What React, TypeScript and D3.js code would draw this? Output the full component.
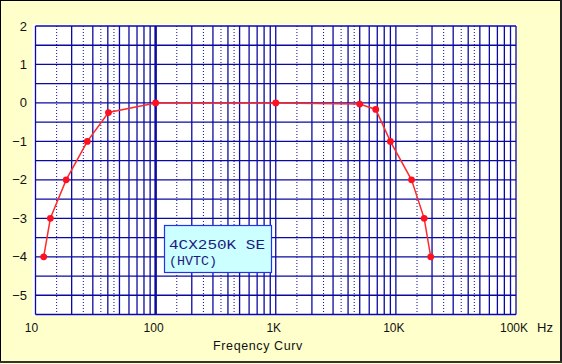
import React from 'react'
import * as d3 from 'd3'

// frequency response
const freqs = [11.7, 13.3, 18, 27, 40.5, 100, 1000, 5000, 6800, 9000, 13500, 17200, 19500]
const levels = [-4, -3, -2, -1, -0.25, 0, 0, -0.03, -0.17, -1, -2, -3, -4]

const yTicks = [2, 1, 0, -1, -2, -3, -4, -5]
const xTicks = [10, 100, 1000, 10000, 100000]
const xTickLabels = ['10', '100', '1K', '10K', '100K']
const legendLines = ['4CX250K SE', '(HVTC)']
const legendWidths = [96, 48]

const W = 562
const H = 364
const gridColor = '#0a0aa0'
const font = '"Liberation Sans", Arial, sans-serif'

const App = () => {
    const x = d3.scaleLog().domain([10, 100000]).range([35.5, 516])
    const y = d3.scaleLinear().domain([-5.5, 2]).range([314.5, 26])

    // minor grid: solid at 1..9, dotted at the halves 1.5..4.5
    let solidX: number[] = []
    let dottedX: number[] = []
    for (let d = 10; d < 100000; d *= 10) {
        for (let m = 1; m <= 9; m++) solidX.push(d * m)
        for (let m = 1.5; m < 5; m += 1) dottedX.push(d * m)
    }
    solidX.push(100000)

    let gridY: number[] = []
    for (let v = -5.5; v <= 2.001; v += 0.5) gridY.push(v)

    const points = freqs.map((f, i) => [f, levels[i]] as [number, number])
    const line = d3.line<[number, number]>()
        .x(d => x(d[0]))
        .y(d => y(d[1]))

    const [x0, x1] = x.range()
    const [y0, y1] = y.range()

    return (
        <svg width={W} height={H} style={{ position: 'absolute', left: 0, top: 0 }}>
            <rect x={0} y={0} width={W} height={H} fill="#ffffcc" />
            <rect x={0.5} y={0.5} width={560} height={361} fill="none" stroke="#000" strokeWidth={1} />
            <line x1={561} x2={561} y1={0} y2={363} stroke="#222" strokeWidth={2} />
            <line x1={0} x2={562} y1={362} y2={362} stroke="#333" strokeWidth={2} />

            <rect x={32} y={24} width={x1 - 32 + 1} height={y0 - 24 + 1.5} fill="#fff" />

            {dottedX.map((f, i) =>
                <line key={`dx-${i}`} x1={x(f)} x2={x(f)} y1={y1} y2={y0}
                      stroke={gridColor} strokeWidth={1} strokeDasharray="1,2" />
            )}
            {solidX.map((f, i) =>
                <line key={`sx-${i}`} x1={x(f)} x2={x(f)} y1={y1} y2={y0}
                      stroke={gridColor} strokeWidth={f === 100 ? 2.5 : 1.3} />
            )}
            {gridY.map((v, i) =>
                <line key={`gy-${i}`} x1={x0} x2={x1} y1={y(v)} y2={y(v)}
                      stroke={gridColor} strokeWidth={1.3} />
            )}

            <path d={line(points) || ''} fill="none" stroke="#ff2a2a" strokeWidth={1.5} />
            {points.map((p, i) =>
                <circle key={`pt-${i}`} cx={x(p[0])} cy={y(p[1])} r={3.4} fill="#ff1020" />
            )}

            {yTicks.map(v =>
                <text key={`yt-${v}`} x={27} y={y(v)} dy="0.35em" textAnchor="end"
                      fontFamily={font} fontSize={13} fill="#111">
                    {v < 0 ? `\u2212${Math.abs(v)}` : v}
                </text>
            )}
            {xTicks.map((f, i) =>
                <text key={`xt-${f}`} x={x(f) - (i === 0 ? 4 : 2)} y={332} textAnchor="middle"
                      fontFamily={font} fontSize={12} fill="#111">
                    {xTickLabels[i]}
                </text>
            )}
            <text x={537} y={332} fontFamily={font} fontSize={13} fill="#111">Hz</text>
            <text x={258} y={350} textAnchor="middle" fontFamily={font} fontSize={12.5}
                  letterSpacing={0.6} fill="#111">Freqency Curv</text>

            <g>
                <rect x={164.5} y={225.5} width={107} height={47} fill="#ccffff" stroke="#2233ee" strokeWidth={1.2} />
                {legendLines.map((t, i) =>
                    <text key={`lg-${i}`} x={169} y={249 + i * 15.5} fontFamily='"Liberation Mono", monospace'
                          fontSize={13.5} textLength={legendWidths[i]} lengthAdjust="spacingAndGlyphs"
                          fill="#1a1a80">{t}</text>
                )}
            </g>
        </svg>
    )
}

export default App
